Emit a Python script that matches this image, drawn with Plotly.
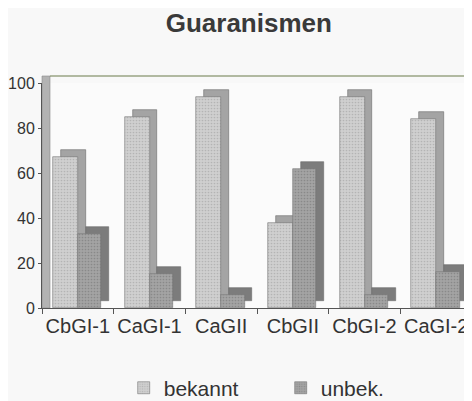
import plotly.graph_objects as go

categories = ["CbGI-1", "CaGI-1", "CaGII", "CbGII", "CbGI-2", "CaGI-2"]
bekannt = [67, 85, 94, 38, 94, 84]
unbek = [33, 15, 6, 62, 6, 16]
y_ticks = [0, 20, 40, 60, 80, 100]

FONT = "Arial, 'Liberation Sans', sans-serif"
DX = 0.11   # depth offset along x (category units)
DY = 3.1    # depth offset along y (value units)

fig = go.Figure()

def add_series(name, vals, offset, width, front, side, dot):
    # depth (side / top) block drawn behind the front face
    fig.add_trace(go.Bar(
        x=categories, y=vals, base=[DY] * len(vals),
        offset=offset + DX, width=width,
        marker=dict(color=side, line=dict(color="#6a6a6a", width=0.6)),
        showlegend=False, hoverinfo="skip"))
    fig.add_trace(go.Bar(
        x=categories, y=vals, name=name,
        offset=offset, width=width,
        marker=dict(color=front, line=dict(color="#777777", width=0.6),
                    pattern=dict(shape=".", size=3, solidity=0.25,
                                 fgcolor=dot, fillmode="overlay")),
        showlegend=True))

add_series("bekannt", bekannt, -0.347, 0.347, "#cfcfcf", "#a4a4a4", "#9a9a9a")
add_series("unbek.", unbek, 0.0, 0.326, "#a3a3a3", "#7c7c7c", "#707070")

PLOT_W = 464 - 34

fig.update_layout(
    width=464, height=393,
    margin=dict(l=34, r=0, t=75, b=93, autoexpand=False),
    paper_bgcolor="#f8f8f8", plot_bgcolor="#fbfbfb",
    barmode="overlay", bargap=0,
    font=dict(family=FONT, size=20, color="#333333"),
    title=dict(text="<b>Guaranismen</b>", x=0.519, xanchor="center",
               y=0.962, yanchor="middle",
               font=dict(family=FONT, size=26, color="#3a3a3a")),
    legend=dict(orientation="h", x=0.19, xanchor="left", y=-0.356,
                yanchor="middle", font=dict(size=21, color="#333333"),
                itemwidth=30, entrywidth=112, bgcolor="rgba(0,0,0,0)"),
    shapes=[
        # left wall
        dict(type="rect", xref="paper", yref="paper", x0=0, x1=8 / PLOT_W,
             y0=0, y1=1 + 7 / 225, fillcolor="#b3b3b3",
             line=dict(color="#8a8a8a", width=0.6), layer="below"),
        # top edge of the back wall
        dict(type="line", xref="paper", yref="paper", x0=8 / PLOT_W, x1=1,
             y0=1 + 7 / 225, y1=1 + 7 / 225,
             line=dict(color="#6b7a4a", width=1.2)),
    ],
)

fig.update_xaxes(
    range=[-0.5, 5.5], showgrid=False, showline=True, automargin=False,
    linecolor="#555555", linewidth=1, ticks="outside", ticklen=5,
    tickcolor="#555555", tickson="boundaries", tickangle=0,
    tickfont=dict(size=20, color="#333333"))
fig.update_yaxes(
    range=[0, 100], tickvals=y_ticks, showgrid=False, showline=True,
    automargin=False,
    linecolor="#555555", linewidth=1, ticks="outside", ticklen=3,
    tickcolor="#555555", zeroline=False,
    tickfont=dict(size=16, color="#333333"))

fig.write_html("out.html")
